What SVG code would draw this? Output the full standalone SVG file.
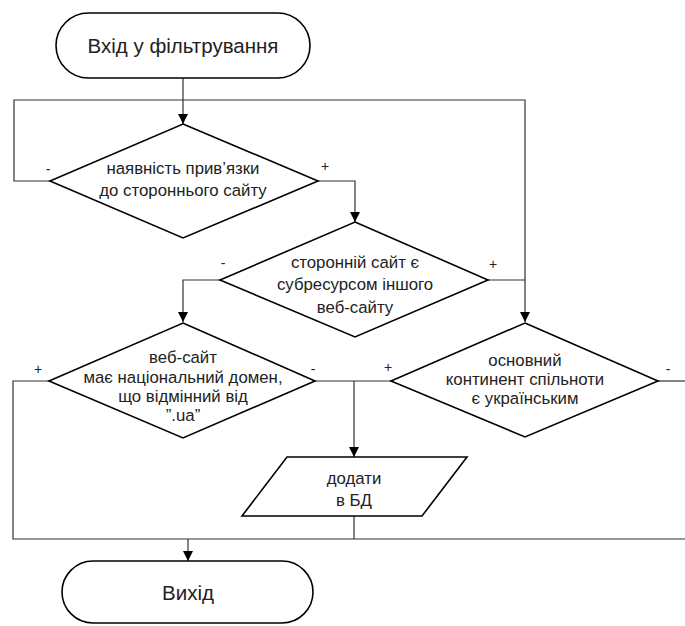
<svg xmlns="http://www.w3.org/2000/svg" width="685" height="626" viewBox="0 0 685 626">
<defs>
<marker id="arr" viewBox="0 0 10 10" refX="10" refY="5" markerWidth="10" markerHeight="10" markerUnits="userSpaceOnUse" orient="auto">
<path d="M0,0 L10,5 L0,10 z" fill="#000"/>
</marker>
<style>
.shape{fill:#fff;stroke:#000;stroke-width:1.6}
.line{fill:none;stroke:#333;stroke-width:1.2}
.t{font-family:"Liberation Sans",Arial,sans-serif;font-size:16.8px;fill:#222;text-anchor:middle}
.big{font-size:20.5px}
.lbl{font-family:"Liberation Sans",Arial,sans-serif;font-size:14px;fill:#222;text-anchor:middle}
</style>
</defs>
<rect width="685" height="626" fill="#fff"/>
<g id="connectors">
<path class="line" d="M183,78 V124" marker-end="url(#arr)"/>
<path class="line" d="M50,181 H14 V100 H525 V322" marker-end="url(#arr)"/>
<path class="line" d="M318,181 H355 V222" marker-end="url(#arr)"/>
<path class="line" d="M220,280 H183 V322" marker-end="url(#arr)"/>
<path class="line" d="M488,280 H525"/>
<path class="line" d="M49,381 H13 V539 H685"/>
<path class="line" d="M315,381 H391"/>
<path class="line" d="M354,381 V457" marker-end="url(#arr)"/>
<path class="line" d="M658,381 H685"/>
<path class="line" d="M354,516 V539"/>
<path class="line" d="M188,539 V561" marker-end="url(#arr)"/>
<text class="lbl" x="48" y="174">-</text>
<text class="lbl" x="325" y="171">+</text>
<text class="lbl" x="223" y="268">-</text>
<text class="lbl" x="493" y="269">+</text>
<text class="lbl" x="38" y="374">+</text>
<text class="lbl" x="313" y="374">-</text>
<text class="lbl" x="388" y="372">+</text>
<text class="lbl" x="668" y="374">-</text>
</g>
<g id="start">
<rect class="shape" x="56" y="13" width="254" height="65" rx="32.5"/>
<text class="t big" x="183" y="53">Вхід у фільтрування</text>
</g>
<g id="d1">
<polygon class="shape" points="183,124 318,181 183,238 50,181"/>
<text class="t" x="183" y="174">наявність прив’язки</text>
<text class="t" x="183" y="196">до стороннього сайту</text>
</g>
<g id="d2">
<polygon class="shape" points="355,222 488,280 355,337 220,280"/>
<text class="t" x="355" y="268">сторонній сайт є</text>
<text class="t" x="355" y="290">субресурсом іншого</text>
<text class="t" x="355" y="313">веб-сайту</text>
</g>
<g id="d3">
<polygon class="shape" points="183,323 315,381 183,438 49,381"/>
<text class="t" x="183" y="363">веб-сайт</text>
<text class="t" x="183" y="383">має національний домен,</text>
<text class="t" x="183" y="402">що відмінний від</text>
<text class="t" x="183" y="421">”.ua”</text>
</g>
<g id="d4">
<polygon class="shape" points="525,323 658,381 525,437 391,381"/>
<text class="t" x="525" y="366">основний</text>
<text class="t" x="525" y="385">континент спільноти</text>
<text class="t" x="525" y="404">є українським</text>
</g>
<g id="add">
<polygon class="shape" points="287,457 467,457 422,516 242,516"/>
<text class="t" x="354" y="484">додати</text>
<text class="t" x="354" y="506">в БД</text>
</g>
<g id="end">
<rect class="shape" x="62" y="561" width="251" height="62" rx="31"/>
<text class="t big" x="188" y="600">Вихід</text>
</g>
</svg>
